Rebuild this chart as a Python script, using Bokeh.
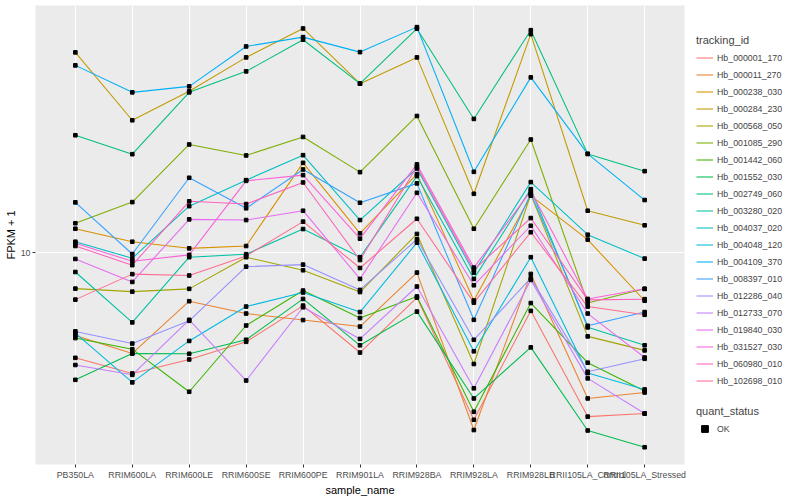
from bokeh.plotting import figure
from bokeh.layouts import row
from bokeh.models import Range1d, FactorRange, FixedTicker, Legend, LegendItem, ColumnDataSource, BasicTickFormatter
from bokeh.embed import file_html
from bokeh.resources import INLINE

samples = ["PB350LA", "RRIM600LA", "RRIM600LE", "RRIM600SE", "RRIM600PE", "RRIM901LA",
           "RRIM928BA", "RRIM928LA", "RRIM928LB", "RRII105LA_Control", "RRII105LA_Stressed"]

tracking_ids = ["Hb_000001_170", "Hb_000011_270", "Hb_000238_030", "Hb_000284_230", "Hb_000568_050",
                "Hb_001085_290", "Hb_001442_060", "Hb_001552_030", "Hb_002749_060", "Hb_003280_020",
                "Hb_004037_020", "Hb_004048_120", "Hb_004109_370", "Hb_008397_010", "Hb_012286_040",
                "Hb_012733_070", "Hb_019840_030", "Hb_031527_030", "Hb_060980_010", "Hb_102698_010"]

colors = ["#F8766D", "#EA8331", "#D89000", "#C09B00", "#A3A500", "#7CAE00", "#39B600", "#00BB4E",
          "#00BF7D", "#00C1A3", "#00BFC4", "#00BAE0", "#00B0F6", "#35A2FF", "#9590FF", "#C77CFF",
          "#E76BF3", "#FA62DB", "#FF62BC", "#FF6C91"]

hb_000001_170 = [5.46, 4.99, 5.41, 5.99, 7.38, 5.63, 7.73, 3.82, 7.16, 3.89, 3.96]
hb_000011_270 = [6.21, 5.60, 7.57, 7.05, 6.79, 6.54, 8.93, 3.60, 8.86, 4.32, 4.47]
hb_000238_030 = [11.50, 10.67, 10.27, 10.41, 16.82, 11.20, 15.76, 7.60, 13.92, 10.80, 7.59]
hb_000284_230 = [31.81, 21.50, 25.41, 30.90, 36.52, 26.56, 30.90, 14.07, 35.34, 12.76, 11.73]
hb_000568_050 = [8.14, 8.00, 8.13, 9.76, 9.05, 7.98, 11.16, 5.27, 14.02, 6.18, 5.70]
hb_001085_290 = [11.87, 13.41, 18.70, 17.55, 19.53, 15.94, 22.04, 11.50, 19.24, 7.49, 8.13]
hb_001442_060 = [6.12, 5.74, 4.49, 6.58, 8.05, 6.87, 7.78, 4.00, 7.49, 5.31, 4.51]
hb_001552_030 = [4.81, 5.60, 5.59, 6.06, 7.67, 5.87, 7.13, 4.32, 5.80, 3.59, 3.26]
hb_002749_060 = [19.72, 17.68, 25.26, 28.51, 34.22, 26.56, 36.46, 21.67, 36.16, 17.71, 16.03]
hb_003280_020 = [8.96, 6.70, 9.76, 9.93, 11.48, 9.76, 15.58, 8.61, 14.45, 6.51, 5.87]
hb_004037_020 = [10.67, 9.70, 13.10, 15.22, 17.58, 12.09, 16.28, 8.93, 15.05, 11.11, 9.68]
hb_004048_120 = [6.30, 4.74, 6.02, 7.34, 7.96, 7.11, 10.61, 5.67, 9.76, 5.00, 4.55]
hb_004109_370 = [29.51, 25.26, 26.15, 32.92, 34.74, 31.86, 36.80, 15.97, 27.54, 17.71, 13.57]
hb_008397_010 = [13.39, 9.94, 15.43, 12.94, 16.19, 13.36, 14.94, 6.80, 14.10, 6.57, 7.11]
hb_012286_040 = [6.36, 5.93, 6.76, 9.24, 9.35, 8.08, 10.82, 6.06, 8.65, 5.04, 5.43]
hb_012733_070 = [5.24, 4.95, 6.80, 4.79, 7.31, 6.09, 8.24, 4.58, 8.56, 4.85, 3.96]
hb_019840_030 = [9.66, 8.46, 12.14, 12.09, 12.76, 8.61, 14.15, 8.30, 11.70, 7.05, 5.47]
hb_031527_030 = [10.57, 9.53, 9.89, 15.16, 15.67, 10.86, 16.67, 9.19, 14.29, 7.67, 8.13]
hb_060980_010 = [10.41, 9.32, 13.47, 13.26, 15.02, 9.60, 16.44, 9.07, 12.23, 7.63, 7.66]
hb_102698_010 = [7.64, 8.85, 8.78, 9.83, 11.98, 9.17, 12.18, 7.51, 11.27, 7.34, 7.00]

series = [hb_000001_170, hb_000011_270, hb_000238_030, hb_000284_230, hb_000568_050,
          hb_001085_290, hb_001442_060, hb_001552_030, hb_002749_060, hb_003280_020,
          hb_004037_020, hb_004048_120, hb_004109_370, hb_008397_010, hb_012286_040,
          hb_012733_070, hb_019840_030, hb_031527_030, hb_060980_010, hb_102698_010]

y_ticks = [10]
FONT = "Liberation Sans"
H = 498

p = figure(x_range=FactorRange(factors=samples, range_padding=0.2, range_padding_units="absolute"),
           y_range=Range1d(2.951, 41.69), y_axis_type="log",
           width=688, height=H, output_backend="svg", toolbar_location=None,
           min_border_left=35, min_border_right=4, min_border_top=5, min_border_bottom=32)

p.background_fill_color = "#EBEBEB"
p.border_fill_color = "white"
p.outline_line_color = None

p.yaxis.ticker = FixedTicker(ticks=y_ticks, minor_ticks=[])
p.yaxis.formatter = BasicTickFormatter()
p.xgrid.grid_line_color = "white"
p.ygrid.grid_line_color = "white"
p.xgrid.grid_line_width = 1.1
p.ygrid.grid_line_width = 1.1

for ax in (p.xaxis, p.yaxis):
    ax.axis_line_color = None
    ax.major_tick_line_color = "#333333"
    ax.major_tick_out = 3
    ax.major_tick_in = 0
    ax.minor_tick_line_color = None
    ax.major_label_text_color = "#4D4D4D"
    ax.major_label_text_font_size = "8.8px"
    ax.major_label_text_font = FONT
    ax.major_label_text_line_height = 1.0
    ax.major_label_standoff = 2
    ax.axis_label_text_font_size = "11px"
    ax.axis_label_text_font = FONT
    ax.axis_label_text_font_style = "normal"
    ax.axis_label_text_color = "black"
    ax.axis_label_text_line_height = 1.0
    ax.axis_label_standoff = 1

p.xaxis.axis_label = "sample_name"
p.yaxis.axis_label = "FPKM + 1"

for col, vals in zip(colors, series):
    p.line(x=samples, y=vals, line_color=col, line_width=1.07)

xs, ys = [], []
for vals in series:
    xs.extend(samples)
    ys.extend(vals)
src = ColumnDataSource(data=dict(x=xs, y=ys))
p.scatter(x="x", y="y", source=src, marker="square", size=3.6, color="black")

# legend panel
lf = figure(width=96, height=H, output_backend="svg", toolbar_location=None,
            x_range=Range1d(0, 1), y_range=Range1d(0, 1),
            x_axis_location=None, y_axis_location=None,
            min_border_left=0, min_border_right=0, min_border_top=0, min_border_bottom=0)
lf.outline_line_color = None
lf.xgrid.visible = False
lf.ygrid.visible = False
lf.background_fill_color = "white"

items = []
for name, col in zip(tracking_ids, colors):
    r = lf.line(x=[-2, -1], y=[-2, -2], line_color=col, line_width=1.07)
    items.append(LegendItem(label=name, renderers=[r]))
dummy_pt = lf.scatter(x=[-2], y=[-2], marker="square", size=4, color="black")


def style_legend(leg):
    leg.title_text_font_size = "11px"
    leg.title_text_font = FONT
    leg.title_text_font_style = "normal"
    leg.label_text_font_size = "8.8px"
    leg.label_text_font = FONT
    leg.glyph_width = 17
    leg.glyph_height = 17
    leg.label_height = 17
    leg.spacing = 0
    leg.padding = 0
    leg.margin = 0
    leg.border_line_color = None
    leg.background_fill_alpha = 0
    leg.label_standoff = 4
    leg.title_standoff = 3


leg1 = Legend(items=items, location=(8, 75), title="tracking_id")
style_legend(leg1)
lf.add_layout(leg1)

leg2 = Legend(items=[LegendItem(label="OK", renderers=[dummy_pt])], location=(8, 27), title="quant_status")
style_legend(leg2)
lf.add_layout(leg2)

layout = row(p, lf)
open("out.html", "w").write(file_html(layout, INLINE))
